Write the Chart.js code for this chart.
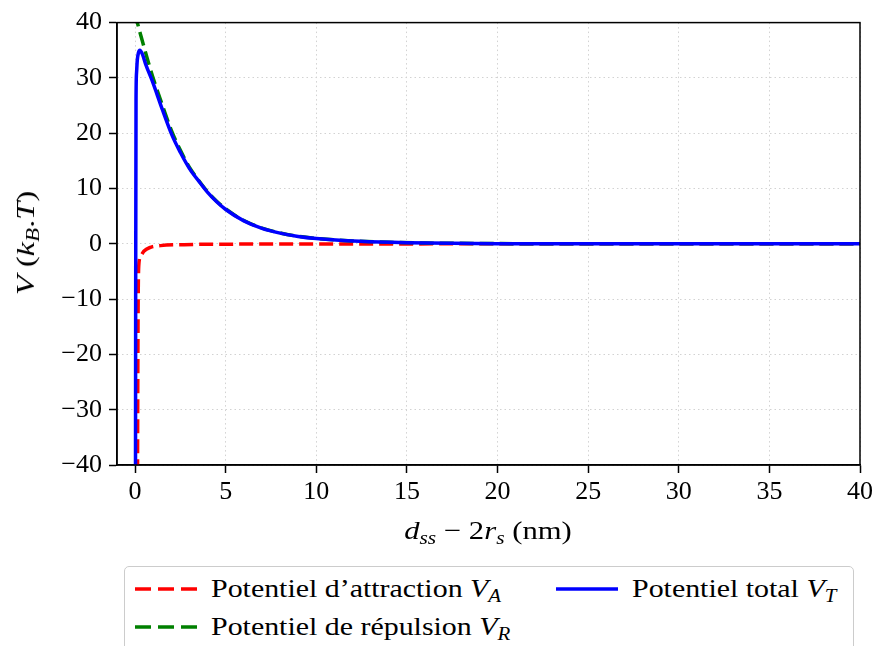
<!DOCTYPE html>
<html lang="fr">
<head>
<meta charset="UTF-8">
<title>Potentiel DLVO</title>
<script src="https://cdn.jsdelivr.net/npm/chart.js@4.4.1/dist/chart.umd.min.js"></script>
<style>
    body { margin: 0; background: #fff; }
    #wrap { position: relative; width: 877px; height: 646px; overflow: hidden; font-family: "Liberation Serif", serif; color: #000; }
    #wrap canvas { position: absolute; left: 0; top: 0; }
    .title { position: absolute; font-size: 26px; white-space: nowrap; }
    #yTitle { left: 26px; top: 243px; transform: translate(-50%, -50%) rotate(-90deg) scaleX(1.25); }
    #xTitle { left: 488px; top: 531px; transform: translate(-50%, -50%) scaleX(1.18); }
    sub { font-size: 0.7em; vertical-align: -0.25em; line-height: 0; }
    #legend { position: absolute; left: 124px; top: 566px; width: 728px; height: 110px;
              border: 1.5px solid #cccccc; border-radius: 5px; background: #fff; font-size: 26px; }
    .item { position: absolute; display: flex; align-items: center; white-space: nowrap; transform: translateY(-50%); }
    .item svg { margin-right: 14px; }
    .item span { display: inline-block; transform: scaleX(1.15); transform-origin: left center; }
</style>
</head>
<body>
<div id="wrap">
    <canvas id="chart" width="877" height="646"></canvas>
    <div class="title" id="yTitle"><i>V</i> (<i>k</i><sub><i>B</i></sub>.<i>T</i>)</div>
    <div class="title" id="xTitle"><i>d</i><sub><i>ss</i></sub> &minus; 2<i>r</i><sub><i>s</i></sub> (nm)</div>
    <div id="legend"></div>
</div>

<script>
    // distances (nm) and potentials (kB.T)
    var distVA = [0.08, 0.12, 0.16, 0.2, 0.3, 0.48, 0.85, 1.4, 2.7, 5, 10, 20, 40];
    var potVA = [-150, -60, -15, -4.0, -2.3, -1.35, -0.63, -0.33, -0.15, -0.07, -0.03, -0.01, 0];

    var distVR = [0, 0.11, 0.26, 0.5, 0.75, 1.03, 1.5, 2, 2.5, 3, 3.5, 4, 4.5, 5, 6, 7, 8, 9, 10, 12, 14, 16, 20, 25, 30, 40];
    var potVR = [41.8, 40.2, 38.3, 35.5, 32.6, 29.6, 25.1, 20.5, 16.9, 13.8, 11.5, 9.4, 7.7, 6.3, 4.2, 2.85, 1.97, 1.36, 0.98, 0.52, 0.27, 0.14, 0.04, 0.01, 0, 0];

    var distVT = [0.01, 0.03, 0.05, 0.08, 0.12, 0.18, 0.26, 0.4, 0.6, 0.94, 1.5, 2.04, 2.5, 3, 3.59, 4, 4.5, 5, 6, 7, 8, 9, 10, 12.4, 15, 20, 25, 30, 40];
    var potVT = [-80, -10, 26, 31, 33.2, 34.5, 35.0, 34.3, 32.3, 29.5, 24.3, 19.6, 16.5, 13.6, 11.0, 9.3, 7.6, 6.2, 4.15, 2.8, 1.93, 1.33, 0.95, 0.45, 0.2, 0.03, 0.01, 0, 0];

    var xTicks = [0, 5, 10, 15, 20, 25, 30, 35, 40];
    var yTicks = [-40, -30, -20, -10, 0, 10, 20, 30, 40];

    var seriesNames = ["Potentiel d’attraction", "Potentiel de répulsion", "Potentiel total"];
    var seriesSubs = ["A", "R", "T"];
    var seriesColors = ["#ff0000", "#008000", "#0000ff"];
    var seriesDash = [[14, 6], [14, 6], []];

    var fontFamily = '"Liberation Serif", serif';
    var gridGray = '#d2d2d2';

    function toPoints(xs, ys) {
        return xs.map(function (x, i) { return { x: x, y: ys[i] }; });
    }

    function tickText(v) {
        return v < 0 ? '\u2212' + Math.abs(v) : String(v);
    }

    var curves = [toPoints(distVA, potVA), toPoints(distVR, potVR), toPoints(distVT, potVT)];

    var datasets = curves.map(function (pts, i) {
        return {
            label: seriesNames[i],
            data: pts,
            showLine: true,
            borderColor: seriesColors[i],
            borderWidth: 3.5,
            borderDash: seriesDash[i],
            pointRadius: 0,
            cubicInterpolationMode: 'monotone',
            order: 2 - i,
            clip: 0
        };
    });

    // full black box around the axes, like matplotlib spines
    var framePlugin = {
        id: 'frame',
        afterDatasetsDraw: function (chart) {
            var a = chart.chartArea;
            var c = chart.ctx;
            c.save();
            c.strokeStyle = '#000';
            c.lineWidth = 1.5;
            c.strokeRect(a.left, a.top, a.right - a.left, a.bottom - a.top);
            c.restore();
        }
    };

    function axisOptions(min, max, ticks) {
        return {
            type: 'linear',
            min: min,
            max: max,
            afterBuildTicks: function (axis) {
                axis.ticks = ticks.map(function (v) { return { value: v }; });
            },
            grid: {
                color: gridGray,
                lineWidth: 1,
                tickColor: '#000',
                tickWidth: 1.5,
                tickLength: 8
            },
            border: { color: '#000', width: 1.5, dash: [1.5, 3] },
            ticks: {
                color: '#000',
                font: { family: fontFamily, size: 26 },
                padding: 4,
                maxRotation: 0,
                autoSkip: false,
                callback: function (v) { return tickText(v); }
            }
        };
    }

    var xOpts = axisOptions(-1, 40, xTicks);
    xOpts.afterFit = function (axis) { axis.height = 181; };
    var yOpts = axisOptions(-40, 40, yTicks);
    yOpts.ticks.padding = 7;
    yOpts.afterFit = function (axis) { axis.width = 117; };

    var chart = new Chart(document.getElementById('chart').getContext('2d'), {
        type: 'scatter',
        data: { datasets: datasets },
        options: {
            responsive: false,
            animation: false,
            layout: { padding: { top: 20, right: 17, bottom: 0, left: 0 } },
            plugins: {
                legend: { display: false },
                tooltip: { enabled: false }
            },
            scales: { x: xOpts, y: yOpts }
        },
        plugins: [framePlugin]
    });

    // legend laid out in two columns like the original
    var legendBox = document.getElementById('legend');
    var slots = [{ left: 10, top: 22 }, { left: 10, top: 60 }, { left: 431, top: 22 }];
    seriesNames.forEach(function (name, i) {
        var item = document.createElement('div');
        item.className = 'item';
        item.style.left = slots[i].left + 'px';
        item.style.top = slots[i].top + 'px';
        var dash = seriesDash[i].length ? 'stroke-dasharray="16 7"' : '';
        item.innerHTML = '<svg width="62" height="8"><line x1="0" y1="4" x2="62" y2="4" stroke="' + seriesColors[i] +
            '" stroke-width="3.5" ' + dash + '/></svg>' +
            '<span>' + name + ' <i>V</i><sub><i>' + seriesSubs[i] + '</i></sub></span>';
        legendBox.appendChild(item);
    });
</script>
</body>
</html>
